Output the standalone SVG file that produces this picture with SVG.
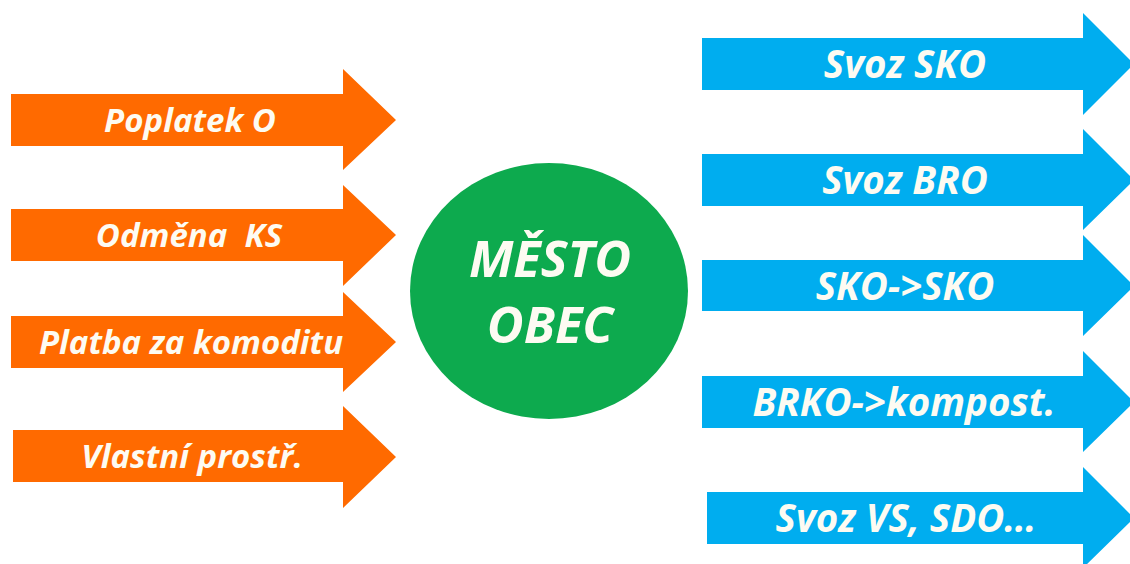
<svg xmlns="http://www.w3.org/2000/svg" width="1130" height="564" viewBox="0 0 1130 564">
<style>
.o{fill:#ff6a00}.b{fill:#00adef}
text{font-family:"Open Sans","Noto Sans",sans-serif;font-weight:700;font-style:italic;fill:#fdfbf2;text-anchor:middle;white-space:pre}
.t{font-size:33px}.r{font-size:38.5px}.c{font-size:50.5px}
</style>
<rect width="1130" height="564" fill="#fff"/>
<g id="connectors"/>
<g id="in1"><path class="o" d="M11 94H343V69L396 120L343 170V146H11Z"/><text class="t" x="190" y="132">Poplatek O</text></g>
<g id="in2"><path class="o" d="M11 209H343V185L396 235L343 286V261H11Z"/><text class="t" x="189" y="247">Odměna  KS</text></g>
<g id="in3"><path class="o" d="M11 316H343V292L396 342L343 392V368H11Z"/><text class="t" x="191" y="354">Platba za komoditu</text></g>
<g id="in4"><path class="o" d="M13 430H343V406L396 457L343 508V482H13Z"/><text class="t" x="192" y="468">Vlastní prostř.</text></g>
<g id="city"><ellipse cx="549" cy="291" rx="139" ry="128" fill="#0daa4e"/><text class="c" x="550" y="277">MĚSTO</text><text class="c" x="550" y="343">OBEC</text></g>
<g id="out1"><path class="b" d="M702 38H1083V13L1134 64L1083 115V90H702Z"/><text class="r" x="905" y="78">Svoz SKO</text></g>
<g id="out2"><path class="b" d="M702 154H1083V129L1134 180L1083 230V206H702Z"/><text class="r" x="905" y="194">Svoz BRO</text></g>
<g id="out3"><path class="b" d="M702 260H1083V235L1134 286L1083 336V311H702Z"/><text class="r" x="905" y="300">SKO-&gt;SKO</text></g>
<g id="out4"><path class="b" d="M702 376H1083V351L1134 402L1083 452V428H702Z"/><text class="r" x="904" y="416">BRKO-&gt;kompost.</text></g>
<g id="out5"><path class="b" d="M707 492H1083V467L1134 518L1083 568V544H707Z"/><text class="r" x="906" y="532">Svoz VS, SDO…</text></g>
</svg>
